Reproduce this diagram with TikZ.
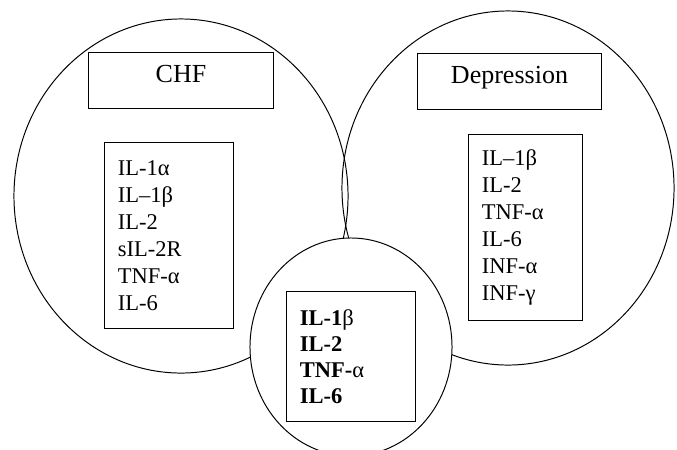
\documentclass[tikz,border=0pt]{standalone}
\usepackage{fontspec}
\setmainfont{Liberation Serif}
\usetikzlibrary{positioning}

\begin{document}
\begin{tikzpicture}[x=0.025cm, y=-0.025cm, line width=0.7pt,
  titlebox/.style={draw, rectangle, minimum width=4.6cm, minimum height=1.4cm, text depth=0.3cm, font=\fontsize{18.5}{22}\selectfont},
  listbox/.style={draw, rectangle, align=left, inner xsep=0.325cm, text width=2.55cm, font=\fontsize{16}{19.2}\selectfont}]
\useasboundingbox (0,0) rectangle (677,449);

% CHF and Depression sets
\draw (181,196) ellipse [x radius=4.175cm, y radius=4.425cm];
\draw (508,188) ellipse [x radius=4.15cm, y radius=4.425cm];

% common set
\draw[fill=white] (351,347) ellipse [x radius=2.525cm, y radius=2.725cm];

% CHF
\node[titlebox] (chf) at (181,80) {CHF};
\node[listbox, minimum height=4.625cm] (chflist) at (169,235.5) {IL-1α\\IL–1β\\IL-2\\sIL-2R\\TNF-α\\IL-6};

% Depression
\node[titlebox, minimum width=4.575cm] (dep) at (509.5,81) {Depression};
\node[listbox, minimum height=4.625cm, text width=2.175cm] (deplist) at (525.5,227.5) {IL–1β\\IL-2\\TNF-α\\IL-6\\INF-α\\INF-γ};

% both
\node[listbox, minimum height=3.225cm, font=\fontsize{16}{18.5}\selectfont] (both) at (351,356.5) {\textbf{IL-1}β\\\textbf{IL-2}\\\textbf{TNF-}α\\\textbf{IL-6}};
\end{tikzpicture}
\end{document}
